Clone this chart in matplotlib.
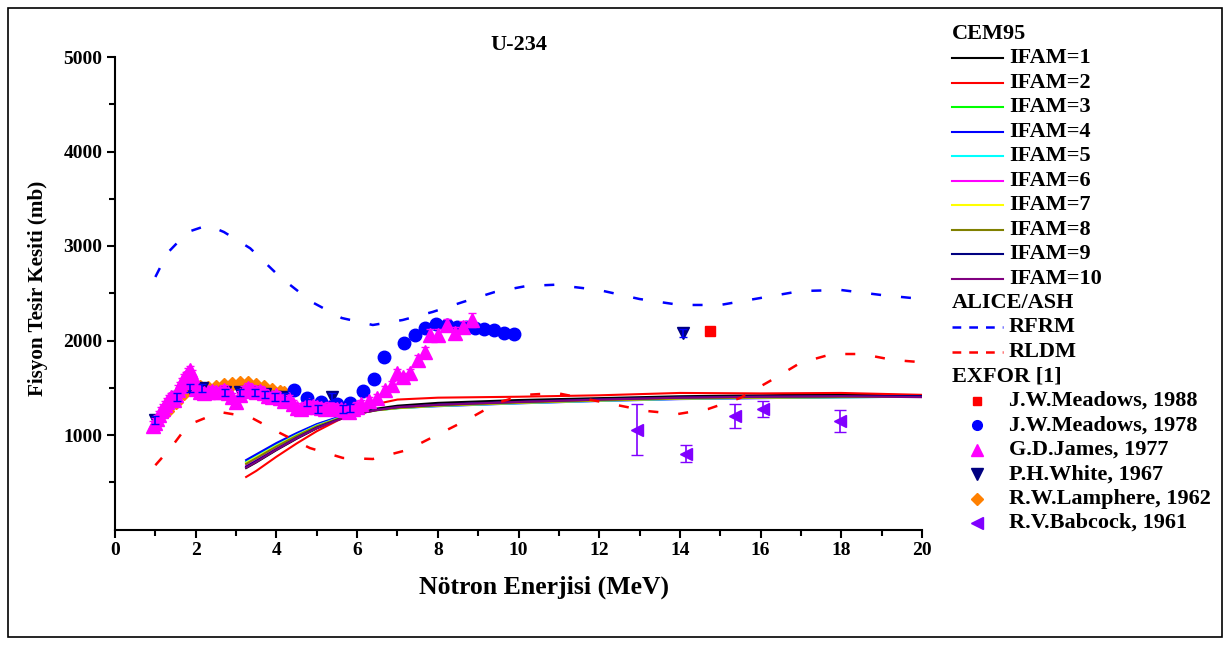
import numpy as np
import matplotlib
matplotlib.use('Agg')
import matplotlib.pyplot as plt
from matplotlib.lines import Line2D
from matplotlib.patches import Rectangle

plt.rcParams['font.family'] = ['Liberation Serif', 'DejaVu Serif']
plt.rcParams['font.weight'] = 'bold'

# CEM95, IFAM=1..10
cem_x = [3.25, 3.5, 4, 4.5, 5, 5.5, 6, 6.5, 7, 8, 9, 10, 12, 14, 16, 18, 20]
cem_y = [
    [650, 710, 840, 960, 1070, 1160, 1230, 1280, 1310, 1340, 1355, 1370, 1390, 1410, 1420, 1430, 1420],
    [556, 620, 770, 910, 1040, 1150, 1250, 1330, 1375, 1395, 1400, 1405, 1420, 1445, 1440, 1445, 1425],
    [720, 780, 900, 1010, 1110, 1180, 1230, 1265, 1285, 1310, 1325, 1340, 1365, 1385, 1395, 1400, 1405],
    [735, 795, 915, 1020, 1115, 1185, 1235, 1265, 1285, 1305, 1320, 1335, 1360, 1380, 1390, 1400, 1405],
    [710, 770, 890, 1000, 1100, 1175, 1228, 1262, 1283, 1308, 1322, 1337, 1362, 1383, 1393, 1400, 1404],
    [680, 740, 865, 980, 1085, 1165, 1225, 1265, 1290, 1315, 1330, 1345, 1370, 1390, 1400, 1405, 1408],
    [705, 765, 885, 995, 1095, 1170, 1226, 1262, 1284, 1310, 1325, 1340, 1365, 1385, 1395, 1402, 1406],
    [695, 755, 878, 990, 1092, 1168, 1226, 1263, 1286, 1312, 1327, 1342, 1367, 1387, 1397, 1403, 1407],
    [665, 725, 850, 970, 1078, 1160, 1225, 1268, 1295, 1322, 1338, 1352, 1378, 1398, 1408, 1412, 1412],
    [655, 715, 845, 965, 1072, 1155, 1222, 1265, 1295, 1320, 1335, 1350, 1375, 1395, 1405, 1410, 1400],
]
ifam_colors = ['black', 'red', '#00ff00', 'blue', 'cyan', 'magenta', 'yellow', '#808000', '#000080', '#800080']

# ALICE/ASH
rfrm_x = [1.0, 1.3, 1.8, 2.3, 2.7, 3.35, 4.09, 4.88, 5.62, 6.39, 7.13, 7.87, 8.62, 9.41, 10.2, 10.9, 12.0, 13.0, 14.0, 15.0, 16.0, 17.0, 18.0, 19.0, 20.0]
rfrm_y = [2672, 2926, 3148, 3220, 3148, 2976, 2672, 2407, 2238, 2164, 2217, 2302, 2407, 2513, 2577, 2590, 2534, 2439, 2376, 2376, 2450, 2524, 2534, 2481, 2439]
rldm_x = [1.0, 1.4, 1.81, 2.6, 3.35, 4.09, 4.83, 5.65, 6.39, 7.24, 7.88, 8.72, 9.47, 10.11, 10.95, 12.44, 13.18, 13.95, 14.7, 15.49, 16.23, 16.98, 17.77, 18.51, 19.28, 20.0]
rldm_y = [680, 873, 1106, 1243, 1190, 1021, 862, 757, 746, 841, 979, 1159, 1339, 1423, 1444, 1317, 1254, 1222, 1275, 1391, 1571, 1762, 1857, 1857, 1794, 1770]

# EXFOR
meadows88_x = [14.74]
meadows88_y = [2100]

meadows78_x = [4.44, 4.76, 5.1, 5.5, 5.82, 6.15, 6.42, 6.67, 7.16, 7.43, 7.68, 7.96, 8.22, 8.48, 8.7, 8.92, 9.15, 9.4, 9.64, 9.89]
meadows78_y = [1476, 1395, 1350, 1330, 1339, 1466, 1593, 1825, 1974, 2058, 2132, 2175, 2160, 2143, 2140, 2132, 2122, 2111, 2080, 2069]

james_x = [0.95, 1.0, 1.05, 1.1, 1.15, 1.2, 1.25, 1.3, 1.35, 1.4, 1.45, 1.5, 1.55, 1.6, 1.65, 1.7, 1.75, 1.8, 1.85,
           1.9, 1.95, 2.0, 2.1, 2.2, 2.3, 2.4, 2.5, 2.6, 2.7, 2.8, 2.9, 3.0, 3.1, 3.2, 3.3, 3.4, 3.5, 3.6, 3.7, 3.8,
           3.9, 4.0, 4.1, 4.2, 4.3, 4.4, 4.5, 4.6, 4.7, 4.8, 4.9, 5.0, 5.1, 5.2, 5.3, 5.4, 5.5, 5.6, 5.7, 5.8, 5.9,
           6.0, 6.1, 6.3, 6.5, 6.7, 6.86, 6.99, 7.14, 7.31, 7.5, 7.68, 7.81, 8.0, 8.23, 8.43, 8.63, 8.85]
james_y = [1100, 1130, 1170, 1210, 1250, 1280, 1320, 1350, 1380, 1400, 1370, 1420, 1480, 1520, 1560, 1600, 1620, 1660, 1690,
           1640, 1560, 1490, 1460, 1440, 1450, 1470, 1450, 1460, 1480, 1440, 1400, 1350, 1420, 1470, 1500, 1480, 1450, 1470, 1440, 1410,
           1400, 1420, 1390, 1360, 1380, 1330, 1290, 1270, 1300, 1320, 1310, 1300, 1290, 1280, 1300, 1290, 1280, 1270, 1260, 1240, 1270,
           1300, 1330, 1360, 1391, 1476, 1529, 1656, 1614, 1656, 1794, 1878, 2058, 2058, 2164, 2080, 2143, 2217]
james_err = [45] * 70 + [55, 55, 60, 60, 65, 65, 65, 70]

white_x = [1.0, 1.53, 1.86, 2.16, 2.73, 3.1, 3.47, 3.72, 3.97, 4.21, 4.76, 5.03, 5.38, 5.65, 5.82, 14.08]
white_y = [1160, 1400, 1500, 1500, 1450, 1450, 1450, 1430, 1400, 1400, 1345, 1275, 1400, 1275, 1285, 2080]
white_err = [40] * 16

lamphere_x = [1.3, 1.5, 1.7, 1.9, 2.1, 2.3, 2.5, 2.7, 2.9, 3.1, 3.3, 3.5, 3.7, 3.9, 4.1, 4.2]
lamphere_y = [1250, 1350, 1440, 1500, 1510, 1500, 1510, 1530, 1540, 1550, 1545, 1530, 1510, 1480, 1450, 1440]

babcock_x = [12.94, 14.15, 15.37, 16.06, 17.97]
babcock_y = [1058, 804, 1201, 1275, 1148]
babcock_err = [270, 90, 130, 80, 115]

W, H = 1231, 645
fig = plt.figure(figsize=(W / 100, H / 100), dpi=100)
ax = fig.add_axes([115 / W, 1 - 529.5 / H, (922 - 115) / W, (529.5 - 57) / H])

for ys, c in zip(cem_y, ifam_colors):
    ax.plot(cem_x, ys, color=c, lw=1.5, zorder=3)

ax.plot(rfrm_x, rfrm_y, color='blue', lw=1.8, dashes=(4, 8), zorder=3)
ax.plot(rldm_x, rldm_y, color='red', lw=1.8, dashes=(4, 8), zorder=3)

ax.plot(lamphere_x, lamphere_y, 'D', color='#ff8000', ms=7, zorder=4)
ax.plot(white_x, white_y, 'v', color='#000080', ms=9, zorder=4)
ax.plot(meadows78_x, meadows78_y, 'o', color='#0000ff', ms=9, zorder=5)
ax.errorbar(james_x, james_y, yerr=james_err, fmt='^', color='#ff00ff', ms=10,
            elinewidth=1, capsize=3, zorder=6)
ax.errorbar(white_x, white_y, yerr=white_err, fmt='none', ecolor='#0000ff',
            elinewidth=1.2, capsize=3, zorder=7)
ax.plot(meadows88_x, meadows88_y, 's', color='red', ms=7, zorder=6)
ax.errorbar(babcock_x, babcock_y, yerr=babcock_err, fmt='<', color='#8000ff', ms=9,
            elinewidth=1.2, capsize=4, zorder=6)

ax.set_xlim(0, 20)
ax.set_ylim(0, 5000)
ax.set_xticks(np.arange(0, 21, 2))
ax.set_xticks(np.arange(0, 21, 1), minor=True)
ax.set_yticks([1000, 2000, 3000, 4000, 5000])
ax.set_yticks(np.arange(500, 5001, 500), minor=True)
ax.spines['top'].set_visible(False)
ax.spines['right'].set_visible(False)
ax.spines['left'].set_linewidth(1.5)
ax.spines['bottom'].set_linewidth(1.5)
ax.tick_params(which='major', direction='out', length=6, width=1.5, labelsize=14, pad=3)
ax.tick_params(which='minor', direction='out', length=4, width=1.5)
for lab in ax.get_xticklabels() + ax.get_yticklabels():
    lab.set_fontweight('bold')

fig.text(519 / W, 1 - 45 / H, 'U-234', ha='center', va='center', fontsize=16, fontweight='bold')
fig.text(544 / W, 1 - 587 / H, 'Nötron Enerjisi (MeV)', ha='center', va='center', fontsize=18.5, fontweight='bold')
fig.text(38 / W, 1 - 288 / H, 'Fisyon Tesir Kesiti (mb)', ha='center', va='center', rotation=90,
         fontsize=15.2, fontweight='bold')

# legend drawn by hand, rows at fixed pixel heights
rows = [
    ('title', 'CEM95', None),
] + [('line', 'IFAM=%d' % (i + 1), dict(color=ifam_colors[i], lw=1.5)) for i in range(10)] + [
    ('title', 'ALICE/ASH', None),
    ('dash', 'RFRM', dict(color='blue', lw=1.8)),
    ('dash', 'RLDM', dict(color='red', lw=1.8)),
    ('title', 'EXFOR [1]', None),
    ('mark', 'J.W.Meadows, 1988', dict(marker='s', color='red', ms=6)),
    ('mark', 'J.W.Meadows, 1978', dict(marker='o', color='#0000ff', ms=7)),
    ('mark', 'G.D.James, 1977', dict(marker='^', color='#ff00ff', ms=8)),
    ('mark', 'P.H.White, 1967', dict(marker='v', color='#000080', ms=8)),
    ('mark', 'R.W.Lamphere, 1962', dict(marker='D', color='#ff8000', ms=6)),
    ('mark', 'R.V.Babcock, 1961', dict(marker='<', color='#8000ff', ms=8)),
]
y0 = 34
step = 24.45
for k, (kind, label, st) in enumerate(rows):
    py = y0 + k * step
    fy = 1 - py / H
    if kind == 'title':
        fig.text(952 / W, fy, label, ha='left', va='center', fontsize=16, fontweight='bold')
        continue
    if kind == 'line':
        fig.add_artist(Line2D([952 / W, 1003 / W], [fy, fy], transform=fig.transFigure, **st))
    elif kind == 'dash':
        fig.add_artist(Line2D([952 / W, 1003 / W], [fy, fy], transform=fig.transFigure,
                              dashes=(3.5, 3.2), **st))
    else:
        fig.add_artist(Line2D([977 / W], [fy], transform=fig.transFigure, ls='none', **st))
    fig.text(1009 / W, fy, label, ha='left', va='center', fontsize=16, fontweight='bold')

fig.patches.append(Rectangle((8 / W, 1 - 637 / H), 1214 / W, 629 / H, transform=fig.transFigure,
                             fill=False, edgecolor='black', lw=1.2))

fig.savefig('out.png', dpi=100)
